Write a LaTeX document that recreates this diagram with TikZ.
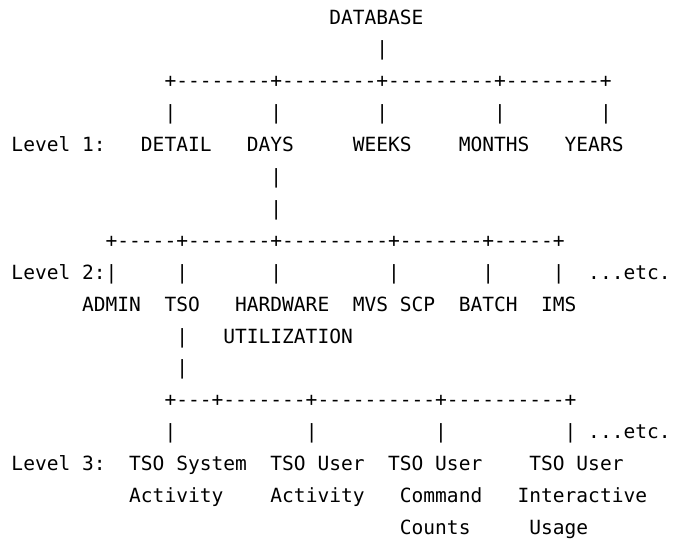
\documentclass[tikz,border=0pt]{standalone}
\usepackage{fontspec}
\setmonofont{DejaVu Sans Mono}
\begin{document}
\begin{tikzpicture}[x=11.77pt, y=-31.9pt,
  txt/.style={inner sep=0pt, outer sep=0pt, anchor=base west,
    font=\ttfamily\fontsize{19.55pt}{20pt}\selectfont, text=black}]
\useasboundingbox (-11.5pt,24pt) rectangle (668.5pt,-515pt);
% row 0-3
\node[txt] (db) at (27,0) {DATABASE};
\node[txt] (v0) at (31,1) {|};
\node[txt] (h1) at (13,2) {+--------+--------+---------+--------+};
\node[txt] (v1a) at (13,3) {|};
\node[txt] (v1b) at (22,3) {|};
\node[txt] (v1c) at (31,3) {|};
\node[txt] (v1d) at (41,3) {|};
\node[txt] (v1e) at (50,3) {|};
% row 4
\node[txt] (lv1) at (0,4) {Level 1:};
\node[txt] (detail) at (11,4) {DETAIL};
\node[txt] (days) at (20,4) {DAYS};
\node[txt] (weeks) at (29,4) {WEEKS};
\node[txt] (months) at (38,4) {MONTHS};
\node[txt] (years) at (47,4) {YEARS};
% rows 5-7
\node[txt] (v2a) at (22,5) {|};
\node[txt] (v2b) at (22,6) {|};
\node[txt] (h2) at (8,7) {+-----+-------+---------+-------+-----+};
% row 8
\node[txt] (lv2) at (0,8) {Level 2:};
\node[txt] (v3a) at (8,8) {|};
\node[txt] (v3b) at (14,8) {|};
\node[txt] (v3c) at (22,8) {|};
\node[txt] (v3d) at (32,8) {|};
\node[txt] (v3e) at (40,8) {|};
\node[txt] (v3f) at (46,8) {|};
\node[txt] (etc2) at (49,8) {...etc.};
% row 9-10
\node[txt] (admin) at (6,9) {ADMIN};
\node[txt] (tso) at (13,9) {TSO};
\node[txt] (hw) at (19,9) {HARDWARE};
\node[txt] (mvs) at (29,9) {MVS SCP};
\node[txt] (batch) at (38,9) {BATCH};
\node[txt] (ims) at (45,9) {IMS};
\node[txt] (v4a) at (14,10) {|};
\node[txt] (util) at (18,10) {UTILIZATION};
\node[txt] (v4b) at (14,11) {|};
% row 12-13
\node[txt] (h3) at (13,12) {+---+-------+----------+----------+};
\node[txt] (v5a) at (13,13) {|};
\node[txt] (v5b) at (25,13) {|};
\node[txt] (v5c) at (36,13) {|};
\node[txt] (v5d) at (47,13) {|};
\node[txt] (etc3) at (49,13) {...etc.};
% row 14-16
\node[txt] (lv3) at (0,14) {Level 3:};
\node[txt] (t1) at (10,14) {TSO System};
\node[txt] (t2) at (22,14) {TSO User};
\node[txt] (t3) at (32,14) {TSO User};
\node[txt] (t4) at (44,14) {TSO User};
\node[txt] (a1) at (10,15) {Activity};
\node[txt] (a2) at (22,15) {Activity};
\node[txt] (a3) at (33,15) {Command};
\node[txt] (a4) at (43,15) {Interactive};
\node[txt] (c3) at (33,16) {Counts};
\node[txt] (c4) at (44,16) {Usage};
\end{tikzpicture}
\end{document}
